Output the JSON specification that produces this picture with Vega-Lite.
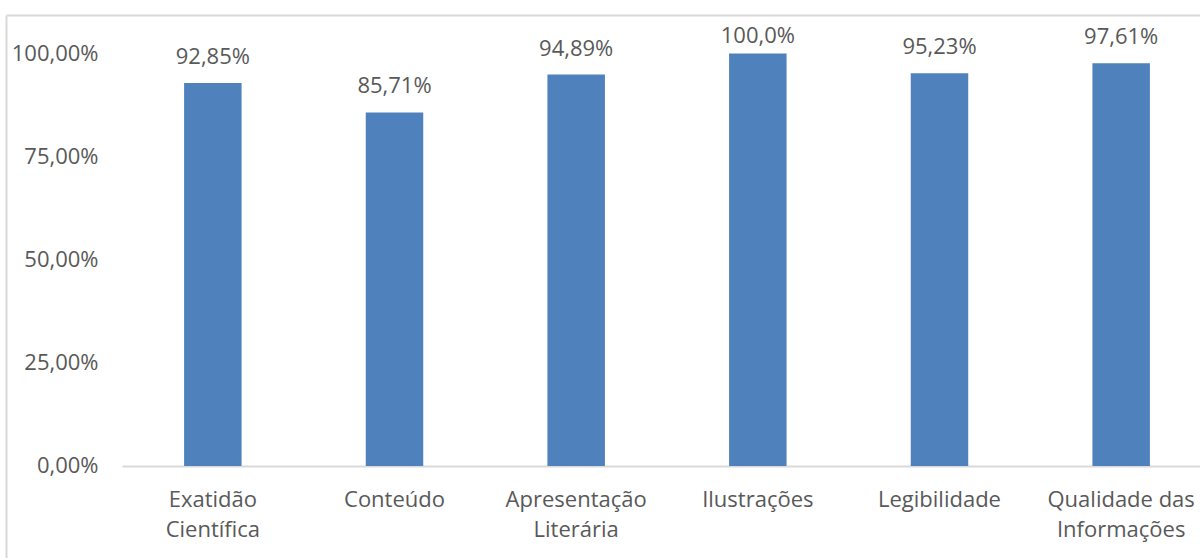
{
  "$schema": "https://vega.github.io/schema/vega-lite/v6.json",
  "width": 1194,
  "height": 543,
  "padding": {"left": 6, "top": 15, "right": 0, "bottom": 0},
  "autosize": {"type": "none"},
  "background": "#ffffff",
  "config": {
    "view": {"stroke": null},
    "font": "Open Sans",
    "axis": {"labelFont": "Open Sans", "grid": false}
  },
  "data": {
    "values": [
      {"criterio": "Exatidão Científica", "valor": 0.9285, "rotulo": "92,85%"},
      {"criterio": "Conteúdo", "valor": 0.8571, "rotulo": "85,71%"},
      {"criterio": "Apresentação Literária", "valor": 0.9489, "rotulo": "94,89%"},
      {"criterio": "Ilustrações", "valor": 1.0, "rotulo": "100,0%"},
      {"criterio": "Legibilidade", "valor": 0.9523, "rotulo": "95,23%"},
      {"criterio": "Qualidade das Informações", "valor": 0.9761, "rotulo": "97,61%"}
    ]
  },
  "layer": [
    {
      "encoding": {
        "x": {
          "field": "criterio",
          "type": "nominal",
          "sort": null,
          "title": null,
          "scale": {"range": [116, 1206], "paddingInner": 0.6835, "paddingOuter": 0.3418},
          "axis": {
            "orient": "bottom",
            "offset": -92,
            "domainColor": "#d9d9d9",
            "domainWidth": 2,
            "ticks": false,
            "tickSize": 0,
            "labelAngle": 0,
            "labelFontSize": 22,
            "labelColor": "#595959",
            "labelPadding": 23,
            "labelLineHeight": 30,
            "labelBaseline": "top",
            "labelExpr": "datum.label == 'Qualidade das Informações' ? ['Qualidade das', 'Informações'] : split(datum.label, ' ')"
          }
        },
        "y": {
          "field": "valor",
          "type": "quantitative",
          "title": null,
          "scale": {"domain": [-0.22303, 1.09333], "nice": false, "zero": false},
          "axis": {
            "orient": "left",
            "values": [0, 0.25, 0.5, 0.75, 1],
            "domain": true,
            "domainColor": "#d9d9d9",
            "domainWidth": 2,
            "ticks": false,
            "tickSize": 0,
            "labelFontSize": 22,
            "labelColor": "#595959",
            "labelPadding": -92,
            "labelExpr": "replace(format(datum.value, '.2%'), '.', ',')"
          }
        }
      },
      "layer": [
        {"mark": {"type": "bar", "color": "#4F81BD"}},
        {
          "transform": [{"filter": "datum.valor < 1"}],
          "mark": {"type": "text", "fontSize": 22, "color": "#595959", "align": "center", "baseline": "alphabetic", "dy": -19},
          "encoding": {"text": {"field": "rotulo"}}
        },
        {
          "transform": [{"filter": "datum.valor >= 1"}],
          "mark": {"type": "text", "fontSize": 22, "color": "#595959", "align": "center", "baseline": "alphabetic", "dy": -10},
          "encoding": {"text": {"field": "rotulo"}}
        }
      ]
    },
    {
      "mark": {"type": "rule", "opacity": 0},
      "encoding": {
        "x": {
          "datum": 0,
          "type": "quantitative",
          "title": null,
          "scale": {"domain": [0, 1]},
          "axis": {
            "orient": "top",
            "domain": true,
            "domainColor": "#d9d9d9",
            "domainWidth": 2,
            "labels": false,
            "ticks": false,
            "grid": false,
            "title": null
          }
        }
      }
    }
  ],
  "resolve": {"scale": {"x": "independent"}, "axis": {"x": "independent"}}
}
